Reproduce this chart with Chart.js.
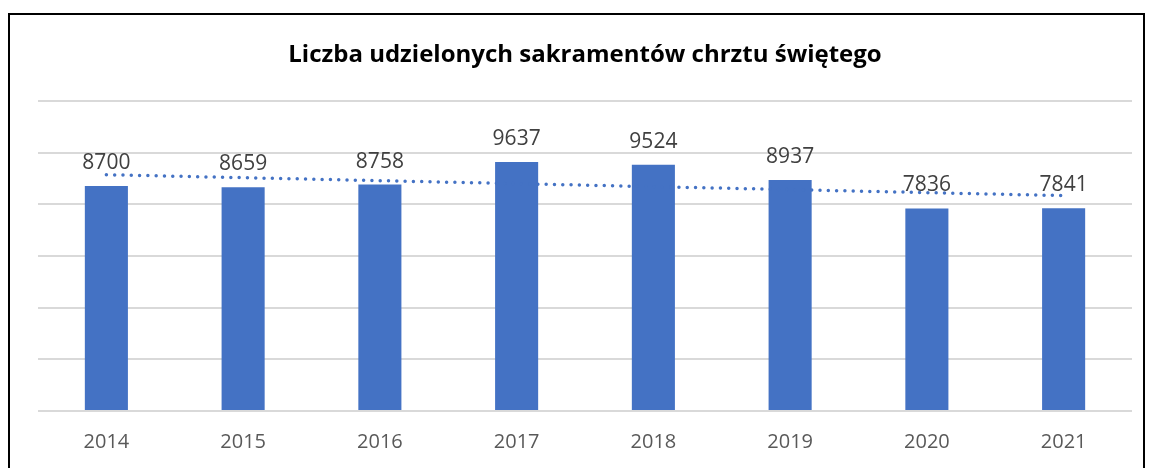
<!DOCTYPE html>
<html>
<head>
<meta charset="utf-8">
<script src="https://cdn.jsdelivr.net/npm/chart.js@4"></script>
<style>
  html, body { margin: 0; padding: 0; background: #fff; }
  #wrap { width: 1149px; height: 468px; position: relative; }
</style>
</head>
<body>
<div id="wrap"><canvas id="chrzty" width="1149" height="468"></canvas></div>
<script>
// dane
const years = ['2014', '2015', '2016', '2017', '2018', '2019', '2020', '2021'];
const baptisms = [8700, 8659, 8758, 9637, 9524, 8937, 7836, 7841];
// linia trendu - tylko punkty końcowe
const trend = [9141, null, null, null, null, null, null, 8332];

const BLUE = '#4472C4';

// ramka wokół wykresu (dół ucięty)
const framePlugin = {
    id: 'frame',
    beforeDraw(chart) {
        const c = chart.ctx;
        c.save();
        c.strokeStyle = '#000';
        c.lineWidth = 2;
        c.beginPath();
        c.moveTo(9, 480);
        c.lineTo(9, 14);
        c.lineTo(1144, 14);
        c.lineTo(1144, 480);
        c.stroke();
        c.restore();
    }
};

// etykiety wartości nad słupkami
const labelPlugin = {
    id: 'valueLabels',
    afterDatasetsDraw(chart) {
        const c = chart.ctx;
        const meta = chart.getDatasetMeta(1);
        c.save();
        c.font = '21px "Open Sans"';
        c.fillStyle = '#404040';
        c.textAlign = 'center';
        c.textBaseline = 'alphabetic';
        meta.data.forEach((bar, i) => {
            c.fillText(String(baptisms[i]), bar.x, bar.y - 17);
        });
        c.restore();
    }
};

new Chart(document.getElementById('chrzty'), {
    data: {
        labels: years,
        datasets: [{
            type: 'line',
            data: trend,
            borderColor: BLUE,
            borderWidth: 3.5,
            borderDash: [0, 8.3],
            borderCapStyle: 'round',
            pointRadius: 0,
            spanGaps: true,
            order: 0
        }, {
            type: 'bar',
            data: baptisms,
            backgroundColor: BLUE,
            barPercentage: 0.315,
            categoryPercentage: 1,
            order: 1
        }]
    },
    options: {
        responsive: false,
        animation: false,
        layout: { padding: { left: 38, right: 17, top: 0, bottom: 3 } },
        plugins: {
            legend: { display: false },
            tooltip: { enabled: false },
            title: {
                display: true,
                text: 'Liczba udzielonych sakramentów chrztu świętego',
                color: '#000',
                font: { family: '"Open Sans"', size: 24, weight: 'bold' },
                padding: { top: 41, bottom: 31 }
            }
        },
        scales: {
            x: {
                grid: { display: false },
                border: { display: false },
                ticks: { color: '#595959', font: { family: '"Open Sans"', size: 20 }, padding: 11 }
            },
            y: {
                min: 0,
                max: 12000,
                ticks: { display: false, stepSize: 2000 },
                border: { display: false },
                grid: { color: '#d9d9d9', lineWidth: 2, drawTicks: false }
            }
        }
    },
    plugins: [framePlugin, labelPlugin]
});
</script>
</body>
</html>
